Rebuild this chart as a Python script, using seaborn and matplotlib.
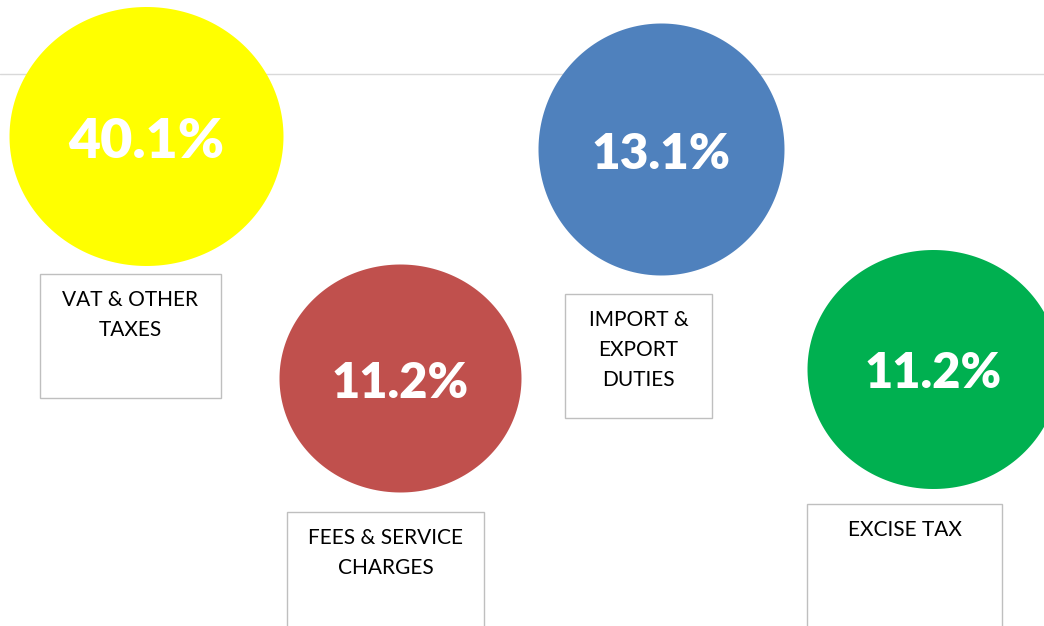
import numpy as np
import pandas as pd
import matplotlib
matplotlib.use("Agg")
import matplotlib.pyplot as plt
from matplotlib.path import Path
from matplotlib.patches import Rectangle
import seaborn as sns

# ---- data ----
categories = ["VAT & OTHER\nTAXES", "FEES & SERVICE\nCHARGES", "IMPORT &\nEXPORT\nDUTIES", "EXCISE TAX"]
shares = [40.1, 11.2, 13.1, 11.2]

# ---- styles / layout (pixel canvas) ----
colors = ["#FFFF00", "#C0504D", "#4F81BD", "#00B050"]
bubble_x = [146, 400, 661, 933]
bubble_y = [135.5, 378, 149, 368.5]
bubble_w = [274, 242, 246, 252]
bubble_h = [259, 228, 252, 239]
label_px = [41, 36, 36.5, 36]          # cap height of the percent text
box_left = [40, 287, 565, 807]
box_top = [274, 512, 294, 504]
box_w = [181, 197, 147, 195]
box_h = [124, 124, 124, 124]

W, H, DPI = 1044, 626, 100
sns.set_theme(style="white")
plt.rcParams["font.family"] = ["Lato", "DejaVu Sans"]

fig = plt.figure(figsize=(W / DPI, H / DPI), dpi=DPI)
ax = fig.add_axes([0, 0, 1, 1])
ax.set_xlim(0, W)
ax.set_ylim(H, 0)
ax.axis("off")

# light gridline
ax.axhline(74, color="#D9D9D9", lw=1.0, zorder=0)

px2pt = 72 / DPI
df = pd.DataFrame({"category": categories, "share": shares,
                   "x": bubble_x, "y": bubble_y})

t = np.linspace(0, 2 * np.pi, 200)
for i, row in df.iterrows():
    w, h = bubble_w[i], bubble_h[i]
    verts = np.column_stack([np.cos(t) * w / 2, np.sin(t) * h / 2])
    marker = Path(verts, closed=True)
    size = (max(w, h) * px2pt) ** 2
    sns.scatterplot(data=df.iloc[[i]], x="x", y="y", ax=ax, marker=marker,
                    s=size, color=colors[i], linewidth=0, legend=False, zorder=2)
    cap = label_px[i]
    fs = cap / 0.7165 * px2pt * 0.97
    ax.text(row["x"], row["y"] + cap / 2 + 2, f"{row['share']:.1f}%",
            ha="center", va="baseline", color="white", fontweight="heavy",
            fontsize=fs, zorder=3)

# label boxes
for i, cat in enumerate(categories):
    ax.add_patch(Rectangle((box_left[i], box_top[i]), box_w[i], box_h[i],
                           facecolor="white", edgecolor="#BFBFBF", lw=1.0, zorder=1))
    lines = cat.split("\n")
    for j, ln in enumerate(lines):
        ax.text(box_left[i] + box_w[i] / 2, box_top[i] + 24 + 30 * j, ln,
                ha="center", va="center_baseline", color="black",
                fontsize=15, zorder=3)

fig.savefig("out.png", dpi=DPI)
